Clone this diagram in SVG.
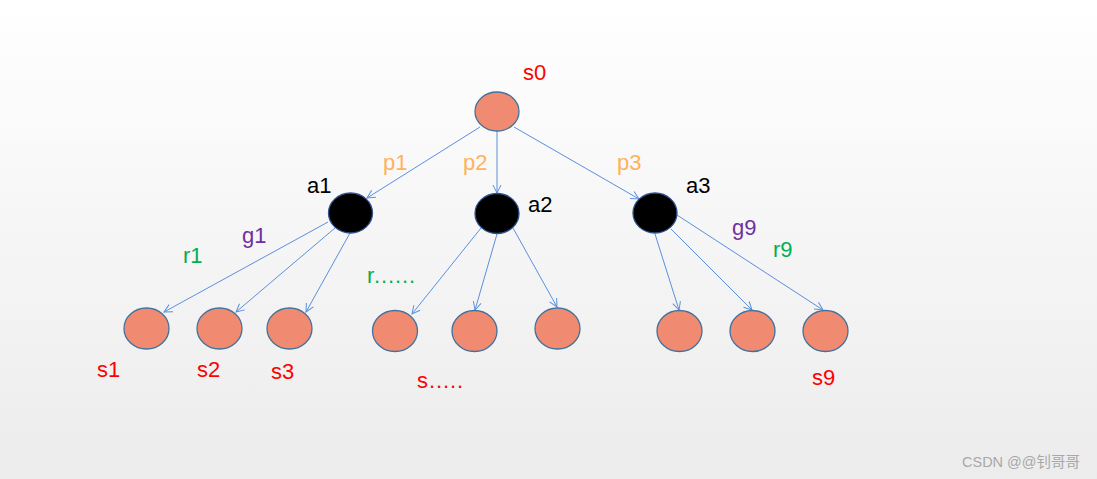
<svg xmlns="http://www.w3.org/2000/svg" width="1097" height="479" viewBox="0 0 1097 479">
<defs>
<linearGradient id="bg" x1="0" y1="0" x2="0" y2="1">
<stop offset="0" stop-color="#ffffff"/>
<stop offset="1" stop-color="#ececec"/>
</linearGradient>
<marker id="arr" markerWidth="12" markerHeight="12" refX="9" refY="5" orient="auto" markerUnits="userSpaceOnUse">
<path d="M1,1 L9,5 L1,9" fill="none" stroke="#5b8fde" stroke-width="1"/>
</marker>
<style>
.s{fill:#f08a71;stroke:#41719c;stroke-width:1.3}
.a{fill:#000;stroke:#2f528f;stroke-width:1.3}
.e{stroke:#5b8fde;stroke-width:1;fill:none;marker-end:url(#arr)}
text{font-family:"Liberation Sans",Arial,sans-serif;font-size:22px}
.red{fill:#ff0000}.org{fill:#ffb25c}.grn{fill:#00b050}.pur{fill:#7030a0}.blk{fill:#000}
</style>
</defs>
<rect width="1097" height="479" fill="url(#bg)"/>
<g id="connectors">
<line class="e" x1="480" y1="127" x2="367" y2="198"/>
<line class="e" x1="497" y1="131" x2="497" y2="193"/>
<line class="e" x1="514" y1="127" x2="639" y2="199"/>
<line class="e" x1="328" y1="222" x2="164" y2="312"/>
<line class="e" x1="335" y1="228" x2="236" y2="312"/>
<line class="e" x1="350" y1="233" x2="306" y2="312"/>
<line class="e" x1="481" y1="228" x2="412" y2="314"/>
<line class="e" x1="497" y1="234" x2="475" y2="310"/>
<line class="e" x1="513" y1="228" x2="557" y2="307"/>
<line class="e" x1="655" y1="234" x2="679" y2="310"/>
<line class="e" x1="671" y1="229" x2="752" y2="310"/>
<line class="e" x1="677" y1="215" x2="823" y2="310"/>
</g>
<g id="s0"><ellipse class="s" cx="497" cy="111.5" rx="22" ry="19.5"/><text class="red" x="523" y="80">s0</text></g>
<g id="a1"><ellipse class="a" cx="350.5" cy="213" rx="22" ry="20"/><text class="blk" x="307" y="193">a1</text></g>
<g id="a2"><ellipse class="a" cx="497" cy="213.5" rx="22" ry="20"/><text class="blk" x="528" y="212">a2</text></g>
<g id="a3"><ellipse class="a" cx="655" cy="213" rx="22" ry="20"/><text class="blk" x="686" y="193">a3</text></g>
<g id="s1"><ellipse class="s" cx="146.5" cy="328.5" rx="22.5" ry="20.5"/><text class="red" x="97" y="377">s1</text></g>
<g id="s2"><ellipse class="s" cx="219.5" cy="328.5" rx="22.5" ry="20.5"/><text class="red" x="197" y="377">s2</text></g>
<g id="s3"><ellipse class="s" cx="289.5" cy="328.5" rx="22.5" ry="20.5"/><text class="red" x="271" y="379">s3</text></g>
<g id="s4"><ellipse class="s" cx="395" cy="331" rx="22.5" ry="20.5"/></g>
<g id="s5"><ellipse class="s" cx="474.5" cy="331" rx="22.5" ry="20.5"/></g>
<g id="s6"><ellipse class="s" cx="557.5" cy="328.5" rx="22.5" ry="20.5"/></g>
<g id="s7"><ellipse class="s" cx="679.5" cy="331" rx="22.5" ry="20.5"/></g>
<g id="s8"><ellipse class="s" cx="752.5" cy="331" rx="22.5" ry="20.5"/></g>
<g id="s9"><ellipse class="s" cx="825.5" cy="331" rx="22.5" ry="20.5"/><text class="red" x="812" y="385">s9</text></g>
<g id="labels">
<text class="org" x="383" y="170">p1</text>
<text class="org" x="463" y="170">p2</text>
<text class="org" x="617" y="170">p3</text>
<text class="pur" x="242" y="243">g1</text>
<text class="grn" x="183" y="263">r1</text>
<text class="grn" x="367" y="283" textLength="48" lengthAdjust="spacing">r......</text>
<text class="red" x="417" y="388" textLength="46" lengthAdjust="spacing">s.....</text>
<text class="pur" x="732" y="235">g9</text>
<text class="grn" x="773" y="257">r9</text>
<text x="962" y="467" style="font-size:14.5px;fill:#a8a8a8;font-family:'Liberation Sans','Noto Sans CJK SC',sans-serif">CSDN @@钊哥哥</text>
</g>
</svg>
